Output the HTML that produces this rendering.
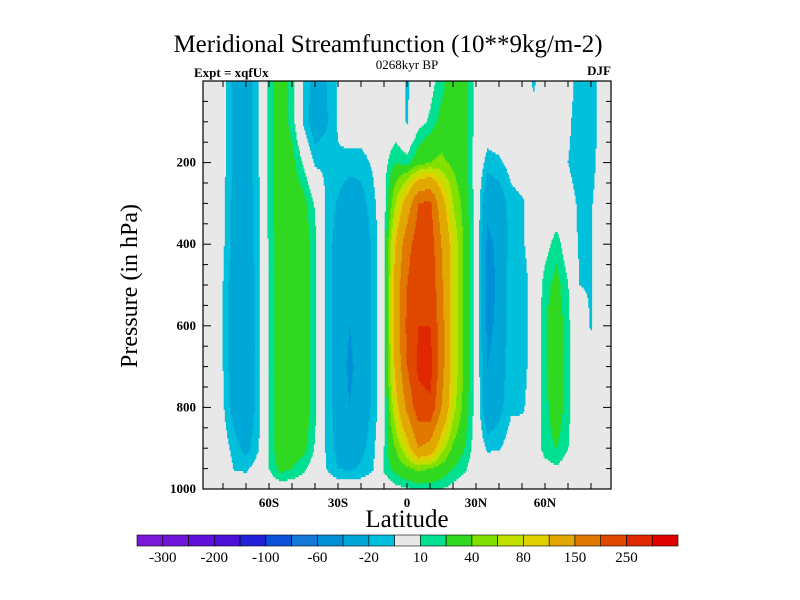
<!DOCTYPE html>
<html><head><meta charset="utf-8">
<style>
html,body{margin:0;padding:0;background:#fff;}
svg{display:block;font-family:"Liberation Serif",serif;}
</style></head>
<body>
<svg id="chart" width="800" height="600" viewBox="0 0 800 600">
<text x="388" y="52" font-size="25" text-anchor="middle">Meridional Streamfunction (10**9kg/m-2)</text>
<text x="194" y="77" font-size="13" font-weight="bold">Expt = xqfUx</text>
<text x="407" y="69" font-size="13" text-anchor="middle">0268kyr BP</text>
<text x="611" y="75" font-size="13" text-anchor="end" font-weight="bold">DJF</text>
<rect x="203" y="81" width="408" height="408" fill="#e8e8e8"/>
<g id="cells"></g>
<g id="axes"></g>
<text x="407" y="527" font-size="25" text-anchor="middle">Latitude</text>
<text transform="translate(137,286) rotate(-90)" font-size="24" text-anchor="middle">Pressure (in hPa)</text>
<g id="cbar"></g>
</svg>
<script>
const lats = [-90,-85,-80,-75,-70,-65,-60,-55,-50,-45,-40,-35,-30,-25,-20,-15,-10,-5,0,5,10,15,20,25,30,35,40,45,50,55,60,65,70,75,80,85,90];
const pressures = [0,100,200,300,400,500,600,700,800,900,950,1000];
// values (10^9 kg/s), rows = pressures, cols = lats
const row0    = [0,0,-5,-25,-30,-12,15,30,15,-12,-25,-20,-8,0,0,0,0,0,-12,0,5,15,30,25,5,0,0,0,0,-12,0,0,-5,-15,-15,-5,0];
const row100  = [0,0,-5,-25,-30,-12,15,30,15,-12,-30,-22,-8,0,0,0,0,0,-11,5,12,25,30,25,5,0,0,0,0,-5,0,0,-8,-15,-15,-5,0];
const row200  = [0,0,-5,-25,-30,-12,15,30,25,8,-12,-12,-12,-15,-15,-8,5,20,15,30,40,45,35,25,2,-15,-12,-5,0,0,0,0,-10,-15,-14,-3,0];
const row300  = [0,0,-8,-25,-30,-15,15,30,30,25,8,-12,-22,-30,-26,-14,3,60,120,200,210,120,60,30,3,-35,-30,-15,-12,-2,0,0,-5,-12,-11,-2,0];
const row400  = [0,0,-8,-25,-30,-15,12,30,30,30,12,-14,-26,-38,-32,-18,2,100,180,230,230,150,80,35,3,-45,-35,-15,-12,-2,5,15,0,-12,-11,0,0];
const row500  = [0,0,-10,-30,-35,-15,12,30,30,30,12,-14,-26,-40,-32,-18,2,120,200,240,240,160,80,35,3,-50,-35,-12,-15,-5,15,25,10,-10,-11,0,0];
const row600  = [0,0,-10,-30,-40,-15,12,30,30,30,12,-14,-26,-40,-32,-18,2,120,210,250,250,170,80,35,3,-45,-35,-12,-15,-3,18,30,12,-2,-11,0,0];
const row700  = [0,0,-10,-30,-40,-15,12,30,30,30,12,-14,-26,-44,-32,-18,2,110,200,260,270,170,80,35,3,-40,-30,-12,-15,-3,18,30,12,0,-3,0,0];
const row800  = [0,0,-8,-28,-35,-15,12,30,30,30,12,-14,-26,-40,-30,-18,2,80,160,230,240,150,70,30,3,-35,-25,-12,-12,-2,15,30,12,0,0,0,0];
const row900  = [0,0,-3,-15,-25,-12,12,30,30,25,8,-12,-24,-28,-24,-14,10,40,80,150,130,70,35,20,2,-12,-11,-3,0,0,15,20,10,0,0,0,0];
const row950  = [0,0,0,-11,-12,-3,10,25,20,12,2,-10,-20,-22,-18,-11,12,25,35,45,40,30,20,12,0,0,0,0,0,0,4,8,2,0,0,0,0];
const row1000 = [0,0,0,0,0,0,0,0,0,0,0,0,0,0,0,0,0,5,8,12,12,10,5,0,0,0,0,0,0,0,0,0,0,0,0,0,0];
const grid = [row0,row100,row200,row300,row400,row500,row600,row700,row800,row900,row950,row1000];
const levels = [-300,-250,-200,-150,-100,-80,-60,-40,-20,-10,10,20,40,60,80,100,150,200,250,300];
const levelLabels = ["-300","-200","-100","-60","-20","10","40","80","150","250"];
const xTickLabels = ["60S","30S","0","30N","60N"];
const xTickVals = [-60,-30,0,30,60];
const yTickVals = [200,400,600,800,1000];

const colors = ["#7b18d8","#7014d8","#6010d8","#4b10d8","#2020d8","#0a50d8","#1478d8","#0090d8","#00a8d8","#00c0dc","#e8e8e8","#00e090","#30d820","#80e000","#c0e000","#e0d000","#e0a800","#e07800","#e04800","#e02800","#e00000"];
const NS="http://www.w3.org/2000/svg";
const X0=203,X1=611,Y0=81,Y1=489;
const xs = lat => 407 + lat*2.3;
const ys = p => Y0 + p*(Y1-Y0)/1000;
const latMin=(X0-407)/2.3, latMax=(X1-407)/2.3;
function colorIdx(v){let i=0;while(i<levels.length&&v>=levels[i])i++;return i;}
function sample(lat,p){
  let i=0;while(i<lats.length-2&&lat>lats[i+1])i++;
  let j=0;while(j<pressures.length-2&&p>pressures[j+1])j++;
  const tx=(lat-lats[i])/(lats[i+1]-lats[i]);
  const ty=(p-pressures[j])/(pressures[j+1]-pressures[j]);
  const a=grid[j][i],b=grid[j][i+1],c=grid[j+1][i],d=grid[j+1][i+1];
  return (a*(1-tx)+b*tx)*(1-ty)+(c*(1-tx)+d*tx)*ty;
}
const cells=document.getElementById('cells');
const dLat=0.5,dP=5;
for(let p=0;p<1000;p+=dP){
  let runStart=latMin,runIdx=null;
  for(let lat=latMin;lat<=latMax+1e-9;lat+=dLat){
    const idx=lat>=latMax?-1:colorIdx(sample(lat+dLat/2,p+dP/2));
    if(runIdx===null){runIdx=idx;runStart=lat;continue;}
    if(idx!==runIdx){
      if(runIdx!==10){
        const r=document.createElementNS(NS,'rect');
        r.setAttribute('x',xs(runStart).toFixed(2));
        r.setAttribute('y',ys(p).toFixed(2));
        r.setAttribute('width',(xs(Math.min(lat,latMax))-xs(runStart)+0.4).toFixed(2));
        r.setAttribute('height',(ys(p+dP)-ys(p)+0.4).toFixed(2));
        r.setAttribute('fill',colors[runIdx]);
        
        
        cells.appendChild(r);
      }
      runIdx=idx;runStart=lat;
    }
  }
}
const axes=document.getElementById('axes');
function el(tag,attrs,parent){const e=document.createElementNS(NS,tag);for(const k in attrs)e.setAttribute(k,attrs[k]);parent.appendChild(e);return e;}
const frame=el('rect',{x:X0,y:Y0,width:X1-X0,height:Y1-Y0,fill:'none',stroke:'#000','stroke-width':1.2},axes);


for(let lat=-80;lat<=80;lat+=10){
  const x=xs(lat);
  const t1=el('line',{x1:x,x2:x,y1:Y1,y2:Y1-6,stroke:'#000'},axes);
  
  
  const t2=el('line',{x1:x,x2:x,y1:Y0,y2:Y0+6,stroke:'#000'},axes);
  
  
}
xTickVals.forEach((v,k)=>{
  const t=el('text',{x:xs(v),y:507,'font-size':13,'font-weight':'bold','text-anchor':'middle'},axes);
  t.textContent=xTickLabels[k];
  
  
});
for(let p=50;p<1000;p+=50){
  const y=ys(p);const len=(p%200===0)?8:5;
  const t1=el('line',{x1:X0,x2:X0+len,y1:y,y2:y,stroke:'#000'},axes);
  
  
  const t2=el('line',{x1:X1,x2:X1-len,y1:y,y2:y,stroke:'#000'},axes);
  
  
}
yTickVals.forEach(v=>{
  const t=el('text',{x:196,y:ys(v)+4,'font-size':13,'font-weight':'bold','text-anchor':'end'},axes);
  t.textContent=String(v);
  
  
});
const cbar=document.getElementById('cbar');
const cbX=137,cbW=541,cbY=535,cbH=11,bw=cbW/colors.length;
colors.forEach((c,k)=>{
  const r=el('rect',{x:cbX+k*bw,y:cbY,width:bw,height:cbH,fill:c,stroke:'#000','stroke-width':0.6},cbar);
  
  
});
levelLabels.forEach((lab,k)=>{
  const t=el('text',{x:cbX+(2*k+1)*bw,y:562,'font-size':15,'text-anchor':'middle'},cbar);
  t.textContent=lab;
  
  
});
</script>
</body></html>
